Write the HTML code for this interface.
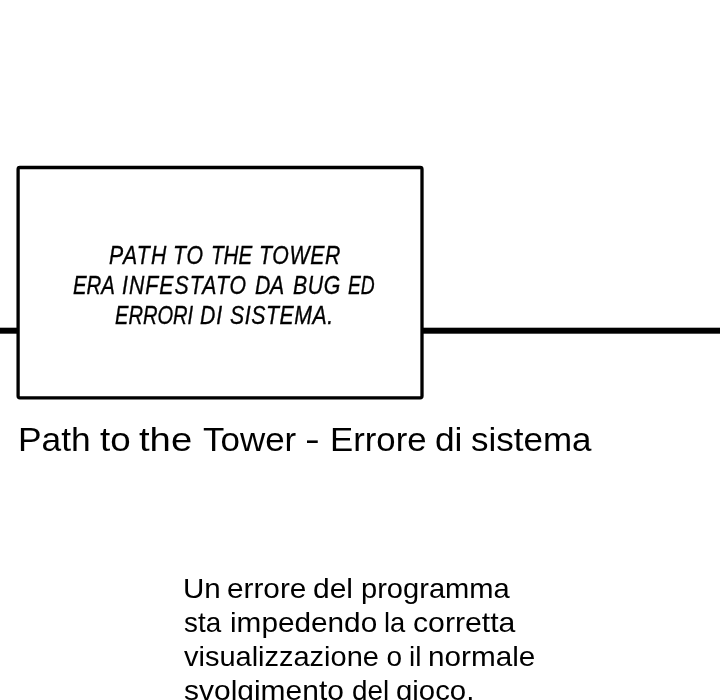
<!DOCTYPE html>
<html>
<head>
<meta charset="utf-8">
<style>
html, body { margin: 0; padding: 0; background: #fff; }
body { width: 720px; height: 700px; position: relative; overflow: hidden; filter: grayscale(1); font-family: "Liberation Sans", sans-serif; color: #000; }
.frame { position: absolute; left: 0; top: 0; }
.w { position: absolute; white-space: nowrap; transform-origin: 0 0; }
.b { font-style: italic; font-size: 25px; line-height: 30px; transform-origin: 0 0; -webkit-text-stroke: 0.35px #000; }
.t { font-size: 34px; line-height: 40px; }
.p { font-size: 28px; line-height: 34px; }
</style>
</head>
<body>
<svg class="frame" width="720" height="700" viewBox="0 0 720 700"><rect x="0" y="327.7" width="720" height="6" fill="#000"/><rect x="18.1" y="167.5" width="403.9" height="230.3" rx="1.8" fill="#fff" stroke="#000" stroke-width="3.3"/></svg>
<div class="w b" id="w0" style="left:108.60px;top:240px;letter-spacing:1.529px;transform:scaleX(0.8500)">PATH</div>
<div class="w b" id="w1" style="left:172.70px;top:240px;letter-spacing:0.941px;transform:scaleX(0.8500)">TO</div>
<div class="w b" id="w2" style="left:211.36px;top:240px;transform:scaleX(0.8230)">THE</div>
<div class="w b" id="w3" style="left:259.20px;top:240px;letter-spacing:0.765px;transform:scaleX(0.8500)">TOWER</div>
<div class="w b" id="w4" style="left:72.89px;top:270px;transform:scaleX(0.8164)">ERA</div>
<div class="w b" id="w5" style="left:121.70px;top:270px;letter-spacing:1.228px;transform:scaleX(0.8500)">INFESTATO</div>
<div class="w b" id="w6" style="left:255.00px;top:270px;letter-spacing:-0.294px;transform:scaleX(0.8500)">DA</div>
<div class="w b" id="w7" style="left:292.50px;top:270px;letter-spacing:0.735px;transform:scaleX(0.8500)">BUG</div>
<div class="w b" id="w8" style="left:347.55px;top:270px;transform:scaleX(0.7694)">ED</div>
<div class="w b" id="w9" style="left:115.18px;top:300px;transform:scaleX(0.8039)">ERRORI</div>
<div class="w b" id="w10" style="left:199.90px;top:300px;letter-spacing:1.059px;transform:scaleX(0.8500)">DI</div>
<div class="w b" id="w11" style="left:230.40px;top:300px;letter-spacing:0.655px;transform:scaleX(0.8500)">SISTEMA.</div>
<div class="w t" id="w12" style="left:17.92px;top:418.7px;transform:scaleX(1.0394)">Path</div>
<div class="w t" id="w13" style="left:100.08px;top:418.7px;transform:scaleX(1.0815)">to</div>
<div class="w t" id="w14" style="left:139.13px;top:418.7px;transform:scaleX(1.1244)">the</div>
<div class="w t" id="w15" style="left:202.88px;top:418.7px;transform:scaleX(1.0278)">Tower</div>
<div class="w t" id="w16" style="left:305.36px;top:418.7px;transform:scaleX(1.3000)">-</div>
<div class="w t" id="w17" style="left:329.96px;top:418.7px;transform:scaleX(1.0220)">Errore</div>
<div class="w t" id="w18" style="left:435.27px;top:418.7px;transform:scaleX(1.0375)">di</div>
<div class="w t" id="w19" style="left:471.06px;top:418.7px;transform:scaleX(1.0284)">sistema</div>
<div class="w p" id="w20" style="left:182.89px;top:572px;transform:scaleX(1.0547)">Un</div>
<div class="w p" id="w21" style="left:226.94px;top:572px;transform:scaleX(1.0625)">errore</div>
<div class="w p" id="w22" style="left:313.16px;top:572px;transform:scaleX(1.0714)">del</div>
<div class="w p" id="w23" style="left:360.68px;top:572px;transform:scaleX(1.0387)">programma</div>
<div class="w p" id="w24" style="left:183.50px;top:606px;transform:scaleX(0.9932)">sta</div>
<div class="w p" id="w25" style="left:230.49px;top:606px;transform:scaleX(1.0625)">impedendo</div>
<div class="w p" id="w26" style="left:384.02px;top:606px;transform:scaleX(0.9762)">la</div>
<div class="w p" id="w27" style="left:413.46px;top:606px;transform:scaleX(1.0789)">corretta</div>
<div class="w p" id="w28" style="left:184.48px;top:640px;transform:scaleX(1.0348)">visualizzazione</div>
<div class="w p" id="w29" style="left:386.60px;top:640px">o</div>
<div class="w p" id="w30" style="left:409.00px;top:640px">il</div>
<div class="w p" id="w31" style="left:427.94px;top:640px;transform:scaleX(1.0606)">normale</div>
<div class="w p" id="w32" style="left:183.93px;top:674px;transform:scaleX(1.0701)">svolgimento</div>
<div class="w p" id="w33" style="left:351.50px;top:674px;transform:scaleX(0.9944)">del</div>
<div class="w p" id="w34" style="left:396.48px;top:674px;transform:scaleX(1.0486)">gioco.</div>
</body>
</html>
